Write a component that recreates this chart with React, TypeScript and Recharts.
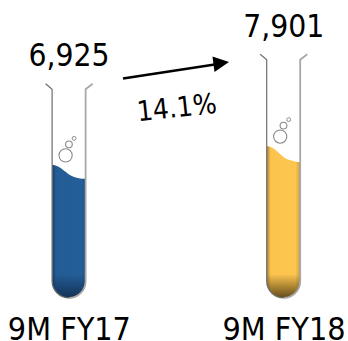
import { BarChart, Bar, XAxis, YAxis, Customized } from 'recharts';

const periods = ['9M FY17', '9M FY18'];
const totals = [6925, 7901];
const liquidColors = ['blue', 'yellow'];
const growthLabel = '14.1%';

const chartData = periods.map((period, i) => ({ period, total: totals[i], liquid: liquidColors[i] }));

const FONT = '"DejaVu Sans Condensed", "DejaVu Sans", sans-serif';
// the glass runs a fixed proportion above the liquid level
const TUBE_RATIO = 1.575;

const TestTube = (props: any) => {
    const { x, y, width, height, payload, index } = props;
    const bottom = y + height;
    const right = x + width;
    const r = width / 2;
    const tubeTop = bottom - height * TUBE_RATIO;
    const cx = x + r;
    const drop = height * 0.105;
    const clipId = `tube-clip-${index}`;
    const wave = `M${x} ${y} C${x + 10} ${y + 1} ${x + 14} ${y + drop * 0.72} ${x + 22} ${y + drop * 0.86} S${x + 30} ${y + drop} ${right} ${y + drop}`;

    return (
        <g>
            <clipPath id={clipId}>
                <path d={`M${x} ${tubeTop} H${right} V${bottom - r} A${r} ${r} 0 0 1 ${x} ${bottom - r} Z`} />
            </clipPath>
            <g clipPath={`url(#${clipId})`}>
                <path
                    d={`${wave} V${bottom} H${x} Z`}
                    fill={`url(#liquid-${payload.liquid})`}
                />
                <rect x={x} y={bottom - 24} width={width} height={24} fill={`url(#shade-${payload.liquid})`} />
            </g>
            {/* glass walls and lip */}
            <path d={`M${x - 6.5} ${tubeTop - 4.5} L${x} ${tubeTop + 1} V${bottom - r} A${r} ${r} 0 0 0 ${x + r} ${bottom}`} fill="none" stroke="#6e6e6e" strokeWidth={1.2} />
            <path d={`M${right + 6.5} ${tubeTop - 4.5} L${right - 0.5} ${tubeTop + 1} V${bottom - r} A${r} ${r} 0 0 1 ${x + r} ${bottom}`} fill="none" stroke="#a8a8a8" strokeWidth={1.8} />
            {/* bubbles */}
            <circle cx={cx - 3.5} cy={y - 9.5} r={6.6} fill="#fff" stroke="#8a8a8a" strokeWidth={1.1} />
            <circle cx={cx - 0.2} cy={y - 20.5} r={3.4} fill="#fff" stroke="#8a8a8a" strokeWidth={1.1} />
            <circle cx={cx + 5} cy={y - 26.5} r={1.9} fill="#fff" stroke="#8a8a8a" strokeWidth={1} />
            <text x={cx} y={tubeTop - 22} textAnchor="middle" fontFamily={FONT} fontSize={31.5} fill="#000">
                {props.total.toLocaleString('en-US')}
            </text>
        </g>
    );
};

const GrowthArrow = () => (
    <g>
        <line x1={123} y1={78.5} x2={218} y2={64} stroke="#000" strokeWidth={2.6} />
        <path d="M229 62 L212.5 56.5 L214.5 72 Z" fill="#000" />
        <text x={177} y={117} textAnchor="middle" fontFamily={FONT} fontSize={28} fill="#000" transform="rotate(-6 177 110)">
            {growthLabel}
        </text>
    </g>
);

const App = () => (
    <div style={{ width: 348, height: 341 }}>
        <style>{'body { margin: 0; }'}</style>
        <BarChart width={348} height={341} data={chartData} margin={{ top: 0, right: 0, bottom: 0, left: 0 }}>
            <defs>
                <linearGradient id="liquid-blue" x1="0" y1="0" x2="1" y2="0">
                    <stop offset="0" stopColor="#17406a" />
                    <stop offset="0.12" stopColor="#235c95" />
                    <stop offset="0.88" stopColor="#245f9a" />
                    <stop offset="1" stopColor="#1a4876" />
                </linearGradient>
                <linearGradient id="liquid-yellow" x1="0" y1="0" x2="1" y2="0">
                    <stop offset="0" stopColor="#a8843a" />
                    <stop offset="0.12" stopColor="#fcc44e" />
                    <stop offset="0.85" stopColor="#fdc64f" />
                    <stop offset="1" stopColor="#c49a42" />
                </linearGradient>
                <linearGradient id="shade-blue" x1="0" y1="0" x2="0" y2="1">
                    <stop offset="0" stopColor="#122f50" stopOpacity={0} />
                    <stop offset="1" stopColor="#122f50" stopOpacity={0.95} />
                </linearGradient>
                <linearGradient id="shade-yellow" x1="0" y1="0" x2="0" y2="1">
                    <stop offset="0" stopColor="#5a4318" stopOpacity={0} />
                    <stop offset="1" stopColor="#5a4318" stopOpacity={0.95} />
                </linearGradient>
            </defs>
            <XAxis
                dataKey="period"
                scale="point"
                padding={{ left: 69.4, right: 64 }}
                axisLine={false}
                tickLine={false}
                height={43}
                interval={0}
                tick={{ fontSize: 32, fontFamily: FONT, fill: '#000' }}
                tickMargin={13}
            />
            <YAxis hide domain={[0, 15500]} />
            <Bar
                dataKey="total"
                barSize={34}
                isAnimationActive={false}
                shape={(p: any) => <TestTube {...p} total={p.payload.total} />}
            />
            <Customized component={GrowthArrow} />
        </BarChart>
    </div>
);

export default App;
